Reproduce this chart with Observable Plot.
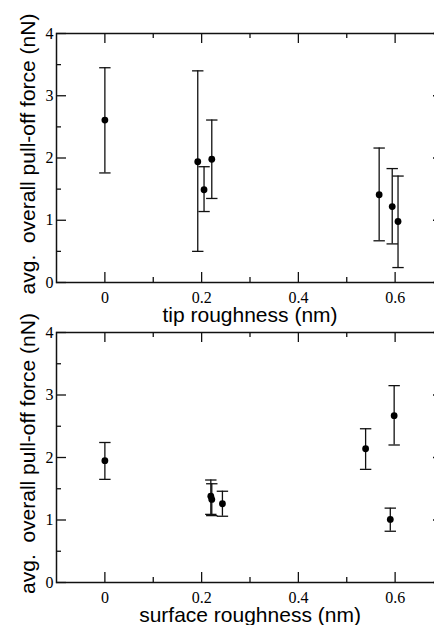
<!DOCTYPE html>
<html>
<head>
<meta charset="utf-8">
<script src="https://cdn.jsdelivr.net/npm/d3@7"></script>
<script src="https://cdn.jsdelivr.net/npm/@observablehq/plot@0.6"></script>
<style>
  html, body { margin: 0; padding: 0; background: white; overflow: hidden; width: 434px; height: 625px; }
  #chart div { line-height: 0; width: 445px; }
  #chart svg { overflow: visible; max-width: none !important; }
</style>
</head>
<body>
<div id="chart"></div>
<script>
// ---- data ----
const yTitle = "avg.  overall pull-off force (nN)";
const xTitleTop = "tip roughness (nm)";
const xTitleBottom = "surface roughness (nm)";

const xMajorTicks = [0, 0.2, 0.4, 0.6];
const xMinorTicks = [0.1, 0.3, 0.5];
const yMajorTicks = [0, 1, 2, 3, 4];
const yMinorTicks = [0.5, 1.5, 2.5, 3.5];

// top panel: tip roughness
const tipX    = [0, 0.192, 0.205, 0.221, 0.567, 0.594, 0.606];
const tipMean = [2.61, 1.94, 1.49, 1.98, 1.41, 1.22, 0.98];
const tipHi   = [3.45, 3.40, 1.86, 2.61, 2.16, 1.83, 1.71];
const tipLo   = [1.76, 0.50, 1.14, 1.35, 0.67, 0.62, 0.24];

// bottom panel: surface roughness
const surfX    = [0, 0.219, 0.221, 0.243, 0.539, 0.598, 0.590];
const surfMean = [1.95, 1.38, 1.33, 1.26, 2.14, 2.67, 1.01];
const surfHi   = [2.24, 1.64, 1.58, 1.46, 2.46, 3.15, 1.19];
const surfLo   = [1.65, 1.09, 1.07, 1.06, 1.81, 2.20, 0.82];

const ink = "#111";
const fmt = d => String(d);

const len = size => Math.sqrt(size / Math.PI);
const capSymbol  = {draw(c, s) { const w = len(s); c.moveTo(-w, 0); c.lineTo(w, 0); }};

function panel(xTitle, xs, means, his, los, height, marginTop, marginBottom) {
  const width = 445, marginLeft = 56, marginRight = 2;
  const innerW = width - marginLeft - marginRight;
  const innerH = height - marginTop - marginBottom;
  const data = xs.map((x, i) => ({x, mean: means[i], hi: his[i], lo: los[i]}));
  const tk = {stroke: ink, strokeWidth: 1.3};
  const major = 10, minor = 5;
  return Plot.plot({
    width, height, marginLeft, marginRight, marginTop, marginBottom,
    style: {fontFamily: "'Liberation Serif', 'Times New Roman', serif", fontSize: "16px", color: ink, background: "transparent", overflow: "visible", maxWidth: "none"},
    x: {domain: [-0.1, 0.7], label: null},
    y: {domain: [0, 4], label: null},
    marks: [
      Plot.frame({stroke: ink, strokeWidth: 1.5}),
      // inward ticks on all four sides (tickX/tickY with pixel insets)
      Plot.tickX(xMajorTicks, {x: d => d, insetTop: innerH - major, ...tk}),
      Plot.tickX(xMinorTicks, {x: d => d, insetTop: innerH - minor, ...tk}),
      Plot.tickX(xMajorTicks, {x: d => d, insetBottom: innerH - major, ...tk}),
      Plot.tickX(xMinorTicks, {x: d => d, insetBottom: innerH - minor, ...tk}),
      Plot.tickY(yMajorTicks, {y: d => d, insetRight: innerW - major, ...tk}),
      Plot.tickY(yMinorTicks, {y: d => d, insetRight: innerW - minor, ...tk}),
      Plot.tickY(yMajorTicks, {y: d => d, insetLeft: innerW - major, ...tk}),
      Plot.tickY(yMinorTicks, {y: d => d, insetLeft: innerW - minor, ...tk}),
      Plot.axisX(xMajorTicks, {anchor: "bottom", tickSize: 0, tickPadding: 9, tickFormat: fmt, label: null, fontSize: 16, fill: "#000"}),
      Plot.axisY(yMajorTicks, {anchor: "left", tickSize: 0, tickPadding: 3, tickFormat: fmt, label: null, fontSize: 16, fill: "#000"}),
      Plot.ruleX(data, {x: "x", y1: "lo", y2: "hi", stroke: ink, strokeWidth: 1.3}),
      Plot.dot(data, {x: "x", y: "hi", symbol: capSymbol, r: 5.7, fill: "none", stroke: ink, strokeWidth: 1.3}),
      Plot.dot(data, {x: "x", y: "lo", symbol: capSymbol, r: 5.7, fill: "none", stroke: ink, strokeWidth: 1.3}),
      Plot.dot(data, {x: "x", y: "mean", r: 3.4, fill: "#000", stroke: null}),
      Plot.text([yTitle], {text: d => d, frameAnchor: "left", textAnchor: "middle", lineAnchor: "middle",
        dx: -28, dy: -4, rotate: -90,
        fontFamily: "'Liberation Sans', Arial, sans-serif", fontSize: 21, fill: "#000"}),
      Plot.text([xTitle], {text: d => d, frameAnchor: "bottom", textAnchor: "middle", lineAnchor: "middle",
        dy: 33,
        fontFamily: "'Liberation Sans', Arial, sans-serif", fontSize: 21, fill: "#000"})
    ]
  });
}

const root = document.getElementById("chart");
const topPanel = document.createElement("div");
topPanel.appendChild(panel(xTitleTop, tipX, tipMean, tipHi, tipLo, 315, 33, 33));
const bottomPanel = document.createElement("div");
bottomPanel.appendChild(panel(xTitleBottom, surfX, surfMean, surfHi, surfLo, 310, 17, 43));
root.appendChild(topPanel);
root.appendChild(bottomPanel);
</script>
</body>
</html>
